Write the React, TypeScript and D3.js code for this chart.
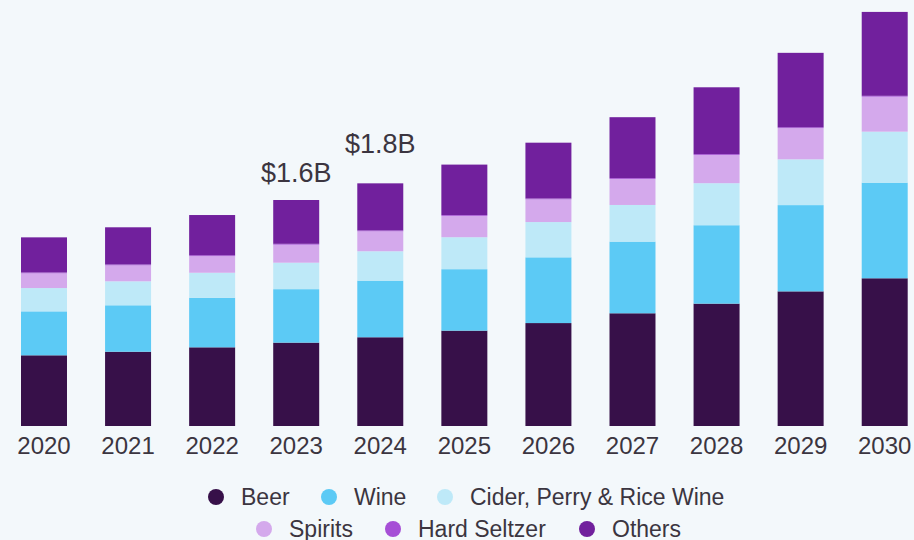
import { scaleBand, scaleLinear, stack } from "d3";

const years = ["2020", "2021", "2022", "2023", "2024", "2025", "2026", "2027", "2028", "2029", "2030"];
const seriesNames = ["Beer", "Wine", "Cider, Perry & Rice Wine", "Spirits", "Hard Seltzer", "Others"];

// values in $B
const beer = [0.513, 0.539, 0.571, 0.605, 0.644, 0.692, 0.747, 0.818, 0.888, 0.977, 1.072];
const wine = [0.319, 0.337, 0.36, 0.388, 0.411, 0.446, 0.477, 0.52, 0.569, 0.626, 0.694];
const cider = [0.169, 0.174, 0.181, 0.192, 0.213, 0.232, 0.256, 0.266, 0.305, 0.332, 0.37];
const spirits = [0.107, 0.116, 0.121, 0.131, 0.145, 0.155, 0.165, 0.189, 0.205, 0.227, 0.254];
const hardSeltzer = [0.006, 0.006, 0.006, 0.006, 0.006, 0.006, 0.006, 0.006, 0.006, 0.006, 0.006];
const others = [0.255, 0.27, 0.292, 0.318, 0.342, 0.366, 0.405, 0.442, 0.485, 0.54, 0.609];

const callouts = [
  { year: "2023", text: "$1.6B" },
  { year: "2024", text: "$1.8B" },
];

const colors = ["#371049", "#5ccaf5", "#bee9f8", "#d4a9ec", "#a64fd6", "#71209d"];
const textColor = "#3b3540";
const font = "'Liberation Sans', Arial, sans-serif";

function App() {
  const width = 914;
  const height = 540;

  const rows = years.map((year, i) => ({
    year,
    Beer: beer[i],
    Wine: wine[i],
    "Cider, Perry & Rice Wine": cider[i],
    Spirits: spirits[i],
    "Hard Seltzer": hardSeltzer[i],
    Others: others[i],
  }));

  const series = stack<any>().keys(seriesNames)(rows);

  const x = scaleBand<string>().domain(years).range([21, 907.7]).paddingInner(0.453).paddingOuter(0);
  const y = scaleLinear().domain([0, 3]).range([426, 426 - 3 * 137.8]);

  const totals = rows.map((_, i) => series[series.length - 1][i][1]);
  // extra lift of each callout above its bar
  const calloutLift = [18, 30];

  const legendRows = [
    [
      { name: "Beer", cx: 216 },
      { name: "Wine", cx: 329 },
      { name: "Cider, Perry & Rice Wine", cx: 445 },
    ],
    [
      { name: "Spirits", cx: 264 },
      { name: "Hard Seltzer", cx: 393 },
      { name: "Others", cx: 587 },
    ],
  ];
  const legendY = [497, 529];

  return (
    <svg
      width={width}
      height={height}
      style={{ position: "absolute", left: 0, top: 0, background: "#f3f8fb" }}
    >
      <rect width={width} height={height} fill="#f3f8fb" />
      {series.map((s, si) => (
        <g key={s.key} fill={colors[si]}>
          {s.map((d: any, i: number) => (
            <rect
              key={years[i]}
              x={x(years[i])}
              width={x.bandwidth()}
              y={y(d[1])}
              height={y(d[0]) - y(d[1])}
            />
          ))}
        </g>
      ))}
      {years.map((yr) => (
        <text
          key={yr}
          x={(x(yr) as number) + x.bandwidth() / 2}
          y={454}
          textAnchor="middle"
          fontFamily={font}
          fontSize={24}
          fill={textColor}
        >
          {yr}
        </text>
      ))}
      {callouts.map((c, i) => {
        const idx = years.indexOf(c.year);
        return (
          <text
            key={c.year}
            x={(x(c.year) as number) + x.bandwidth() / 2}
            y={y(totals[idx]) - calloutLift[i]}
            textAnchor="middle"
            fontFamily={font}
            fontSize={27}
            fill={textColor}
          >
            {c.text}
          </text>
        );
      })}
      {legendRows.map((row, ri) =>
        row.map((item) => (
          <g key={item.name}>
            <circle
              cx={item.cx}
              cy={legendY[ri]}
              r={8}
              fill={colors[seriesNames.indexOf(item.name)]}
            />
            <text
              x={item.cx + 25}
              y={legendY[ri] + 8}
              fontFamily={font}
              fontSize={23}
              fill={textColor}
            >
              {item.name}
            </text>
          </g>
        ))
      )}
    </svg>
  );
}

export default App;
